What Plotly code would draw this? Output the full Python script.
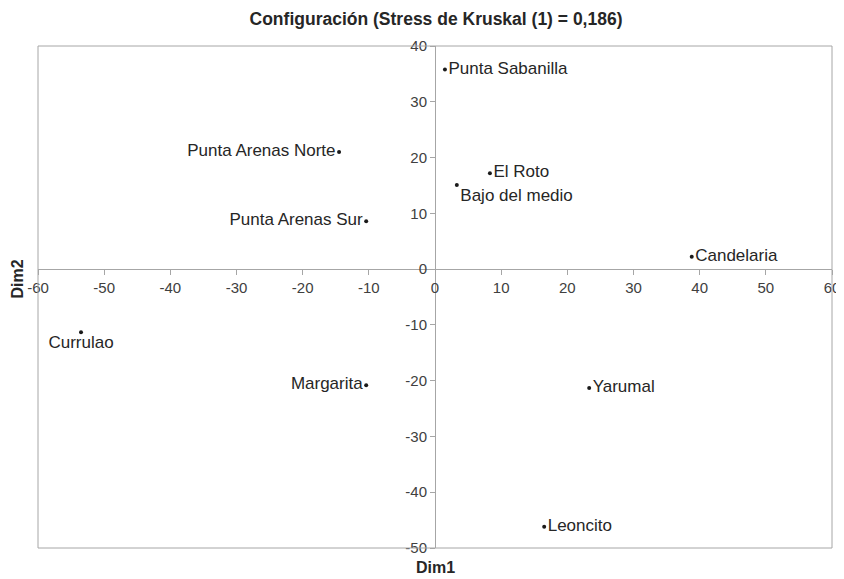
import plotly.graph_objects as go

names = ["Punta Sabanilla", "El Roto", "Bajo del medio", "Punta Arenas Norte",
         "Punta Arenas Sur", "Candelaria", "Currulao", "Margarita", "Yarumal", "Leoncito"]
dim1 = [1.5, 8.3, 3.3, -14.5, -10.4, 38.8, -53.5, -10.4, 23.3, 16.5]
dim2 = [35.8, 17.2, 15.1, 21.0, 8.6, 2.2, -11.3, -20.8, -21.3, -46.2]
positions = ["middle right", "middle right", "bottom right", "middle left",
             "middle left", "middle right", "bottom center", "middle left",
             "middle right", "middle right"]

x_ticks = list(range(-60, 61, 10))
y_ticks = list(range(-50, 41, 10))
x_labels = [str(v) for v in x_ticks]
y_labels = [str(v) for v in y_ticks]

FONT = "Liberation Sans, Arial"
fig = go.Figure()
fig.add_trace(go.Scatter(
    x=dim1, y=dim2, mode="markers+text", text=names, textposition=positions,
    marker=dict(color="#1a1a1a", size=4),
    textfont=dict(family=FONT, size=17, color="#262626"),
    cliponaxis=False, showlegend=False))

axis_color = "#a6a6a6"
tick_font = dict(family=FONT, size=15, color="#404040")
# the page body adds an 8px offset, so the figure is 8px smaller and margins shifted
fig.update_layout(
    width=836, height=571,
    margin=dict(l=30, r=12, t=38, b=31),
    paper_bgcolor="white", plot_bgcolor="white",
    title=dict(text="<b>Configuración (Stress de Kruskal (1) = 0,186)</b>",
               x=0.512, xanchor="center", y=1 - 10.5 / 571, yanchor="middle",
               font=dict(family=FONT, size=17.5, color="#262626")),
    xaxis=dict(range=[-60, 60], tickvals=x_ticks, ticktext=x_labels,
               showgrid=False, zeroline=False, automargin=False,
               showline=True, linecolor=axis_color, linewidth=1,
               ticks="outside", ticklen=5, tickcolor=axis_color,
               anchor="free", position=50 / 90, tickfont=tick_font),
    yaxis=dict(range=[-50, 40], tickvals=y_ticks, ticktext=y_labels,
               showgrid=False, zeroline=False, automargin=False,
               showline=True, linecolor=axis_color, linewidth=1,
               ticks="outside", ticklen=5, tickcolor=axis_color,
               anchor="free", position=0.5, tickfont=tick_font),
    shapes=[dict(type="rect", xref="paper", yref="paper", x0=0, y0=0, x1=1, y1=1,
                 line=dict(color=axis_color, width=1))],
    annotations=[
        dict(text="<b>Dim1</b>", xref="paper", yref="paper", x=0.5, y=-0.038,
             xanchor="center", yanchor="middle", showarrow=False, borderpad=0,
             font=dict(family=FONT, size=16, color="#262626")),
        dict(text="<b>Dim2</b>", xref="paper", yref="paper", x=-0.0264, y=0.535,
             xanchor="center", yanchor="middle", textangle=-90, showarrow=False,
             borderpad=0, font=dict(family=FONT, size=16, color="#262626")),
    ],
)
fig.write_html("out.html")
